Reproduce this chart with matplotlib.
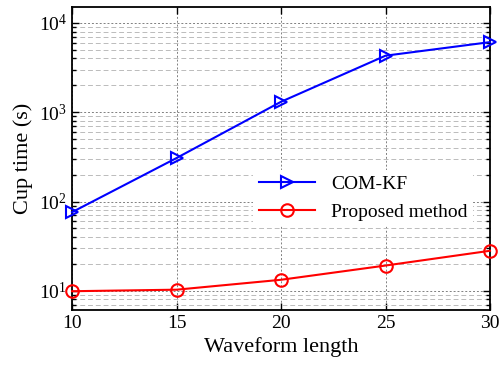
import matplotlib.pyplot as plt
from matplotlib.ticker import LogLocator, NullFormatter

plt.rcParams['font.family'] = ['Liberation Serif', 'DejaVu Serif']
plt.rcParams['mathtext.fontset'] = 'custom'
plt.rcParams['mathtext.rm'] = 'Liberation Serif'

# Data
waveform_length = [10, 15, 20, 25, 30]
com_kf = [76, 307, 1310, 4300, 6100]
proposed = [9.9, 10.3, 13.3, 19.2, 28.1]

fig = plt.figure(figsize=(4.99, 3.67), dpi=100)
ax = fig.add_axes([0.1443, 0.1553, 0.8377, 0.8257])

ax.plot(waveform_length, com_kf, color='#0000ff', lw=1.5, marker='>', markersize=9,
        markerfacecolor='none', markeredgewidth=1.5, label='COM-KF', clip_on=False, zorder=5)
ax.plot(waveform_length, proposed, color='#ff0000', lw=1.5, marker='o', markersize=9,
        markerfacecolor='none', markeredgewidth=1.5, label='Proposed method', clip_on=False, zorder=5)

ax.set_yscale('log')
ax.set_xlim(10, 30)
ax.set_ylim(6.1, 1.51e4)
ax.set_xticks([10, 15, 20, 25, 30])
ax.yaxis.set_major_locator(LogLocator(base=10, numticks=10))
ax.yaxis.set_minor_locator(LogLocator(base=10, subs=range(2, 10), numticks=20))
ax.yaxis.set_minor_formatter(NullFormatter())

ax.grid(True, which='major', color='#808080', linestyle=(0, (2, 2)), lw=0.7)
ax.grid(True, which='minor', axis='y', color='#bbbbbb', linestyle=(0, (5, 3)), lw=0.7)

ax.tick_params(which='both', direction='in', top=True, right=True, labelsize=14, width=1)
ax.tick_params(which='major', length=5)
ax.tick_params(which='minor', length=3)
for s in ax.spines.values():
    s.set_linewidth(1.3)

ax.set_xlabel('Waveform length', fontsize=16, labelpad=4)
ax.set_ylabel('Cup time (s)', fontsize=16, labelpad=4)

leg = ax.legend(loc='upper left', bbox_to_anchor=(0.41, 0.495), fontsize=14, frameon=True,
                fancybox=False, edgecolor='none', facecolor='white', framealpha=1,
                handlelength=2.9, borderpad=0.3, labelspacing=0.5)

fig.savefig('out.png', dpi=100)
